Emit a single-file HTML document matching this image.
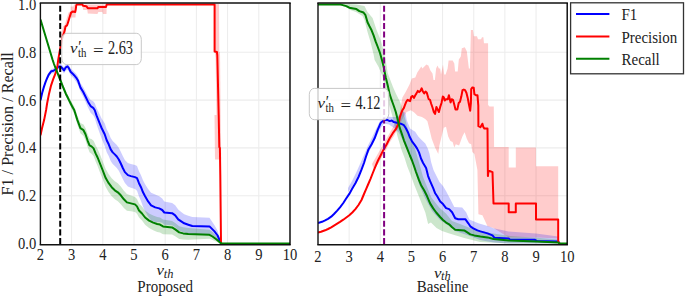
<!DOCTYPE html>
<html><head><meta charset="utf-8"><style>
html,body{margin:0;padding:0;background:#fff;overflow:hidden;}
svg{display:block;}
text{font-family:"Liberation Serif",serif;fill:#222;}
</style></head><body>
<svg width="685" height="297" viewBox="0 0 685 297">
<defs><clipPath id="cl"><rect x="40.4" y="3.0" width="249.6" height="241.8"/></clipPath><clipPath id="cr"><rect x="318.0" y="3.0" width="249.20000000000005" height="241.8"/></clipPath></defs>
<rect x="0" y="0" width="685" height="297" fill="#fff"/>
<line x1="71.60" y1="3.0" x2="71.60" y2="244.8" stroke="#ececec" stroke-width="1.0"/><line x1="102.80" y1="3.0" x2="102.80" y2="244.8" stroke="#ececec" stroke-width="1.0"/><line x1="134.00" y1="3.0" x2="134.00" y2="244.8" stroke="#ececec" stroke-width="1.0"/><line x1="165.20" y1="3.0" x2="165.20" y2="244.8" stroke="#ececec" stroke-width="1.0"/><line x1="196.40" y1="3.0" x2="196.40" y2="244.8" stroke="#ececec" stroke-width="1.0"/><line x1="227.60" y1="3.0" x2="227.60" y2="244.8" stroke="#ececec" stroke-width="1.0"/><line x1="258.80" y1="3.0" x2="258.80" y2="244.8" stroke="#ececec" stroke-width="1.0"/><line x1="40.4" y1="195.76" x2="290.0" y2="195.76" stroke="#ececec" stroke-width="1.2"/><line x1="40.4" y1="147.92" x2="290.0" y2="147.92" stroke="#ececec" stroke-width="1.2"/><line x1="40.4" y1="100.08" x2="290.0" y2="100.08" stroke="#ececec" stroke-width="1.2"/><line x1="40.4" y1="52.24" x2="290.0" y2="52.24" stroke="#ececec" stroke-width="1.2"/>
<line x1="349.15" y1="3.0" x2="349.15" y2="244.8" stroke="#ececec" stroke-width="1.0"/><line x1="380.30" y1="3.0" x2="380.30" y2="244.8" stroke="#ececec" stroke-width="1.0"/><line x1="411.45" y1="3.0" x2="411.45" y2="244.8" stroke="#ececec" stroke-width="1.0"/><line x1="442.60" y1="3.0" x2="442.60" y2="244.8" stroke="#ececec" stroke-width="1.0"/><line x1="473.75" y1="3.0" x2="473.75" y2="244.8" stroke="#ececec" stroke-width="1.0"/><line x1="504.90" y1="3.0" x2="504.90" y2="244.8" stroke="#ececec" stroke-width="1.0"/><line x1="536.05" y1="3.0" x2="536.05" y2="244.8" stroke="#ececec" stroke-width="1.0"/><line x1="318.0" y1="195.76" x2="567.2" y2="195.76" stroke="#ececec" stroke-width="1.2"/><line x1="318.0" y1="147.92" x2="567.2" y2="147.92" stroke="#ececec" stroke-width="1.2"/><line x1="318.0" y1="100.08" x2="567.2" y2="100.08" stroke="#ececec" stroke-width="1.2"/><line x1="318.0" y1="52.24" x2="567.2" y2="52.24" stroke="#ececec" stroke-width="1.2"/>
<g clip-path="url(#cl)">
<g opacity="0.2"><polygon points="40.5,98.9 42.2,91.2 43.9,85.1 45.6,80.0 47.3,75.7 48.9,72.2 50.0,70.8 51.3,68.9 53.5,68.4 55.3,67.0 57.0,65.6 58.8,63.7 60.5,63.6 62.3,65.3 64.0,67.5 65.8,64.3 67.5,63.3 68.9,65.0 70.6,68.4 72.4,70.0 74.1,71.7 76.3,74.1 78.1,76.8 80.5,83.3 83.1,87.1 85.6,91.7 88.1,96.3 90.6,100.0 93.2,101.2 94.8,103.3 96.5,107.8 98.2,111.3 99.9,114.8 101.6,118.4 104.7,123.3 106.7,129.2 108.7,133.1 110.7,138.1 112.7,141.0 114.8,142.9 116.8,144.9 118.8,147.8 120.8,151.7 122.8,156.1 124.9,160.1 127.9,163.1 130.9,164.1 135.0,165.1 137.0,166.1 139.0,171.2 141.0,175.2 143.0,180.3 145.1,184.3 148.1,189.1 151.1,192.8 155.2,194.4 159.2,196.2 162.2,198.4 164.3,201.4 172.1,202.9 175.2,205.3 178.2,209.6 181.2,211.9 184.2,214.2 188.3,215.7 192.3,217.0 209.5,217.7 211.5,220.7 214.5,225.2 217.6,230.8 220.2,239.4 221.0,242.7 221.0,244.1 220.2,243.1 217.6,239.2 214.5,236.7 211.5,235.2 209.5,234.2 192.3,234.7 188.3,233.6 184.2,232.5 181.2,231.4 178.2,230.3 175.2,227.2 172.1,225.2 164.3,224.7 162.2,222.8 159.2,222.1 155.2,222.3 151.1,220.4 148.1,216.4 145.1,211.3 143.0,206.7 141.0,201.0 139.0,196.4 137.0,190.7 135.0,189.1 130.9,187.7 127.9,186.4 124.9,183.1 122.8,179.1 120.8,174.7 118.8,170.8 116.8,167.9 114.8,165.9 112.7,164.0 110.7,161.1 108.7,156.1 106.7,152.2 104.7,146.1 101.6,138.6 99.9,133.8 98.2,128.9 96.5,124.0 94.8,118.2 93.2,115.3 90.6,112.8 88.1,107.8 85.6,102.0 83.1,96.6 80.5,92.1 78.1,85.1 76.3,81.9 74.1,79.1 72.4,77.1 70.6,75.3 68.9,71.6 67.5,69.7 65.8,70.4 64.0,73.4 62.3,71.1 60.5,69.2 58.8,69.1 57.0,70.8 55.3,72.0 53.5,73.2 51.3,73.5 50.0,75.2 48.9,76.4 47.3,79.7 45.6,83.8 43.9,88.7 42.2,94.4 40.5,101.9" fill="#0000ff" fill-opacity="1" stroke="none"/></g>
<g opacity="0.2"><polygon points="40.5,18.0 44.1,29.9 47.1,39.8 50.1,49.7 52.5,57.6 54.0,62.0 55.7,66.4 57.4,70.4 59.0,74.5 60.7,78.6 62.4,82.8 64.1,86.9 65.8,91.0 67.5,94.2 69.1,97.5 70.8,100.6 72.5,103.6 74.2,106.2 77.4,115.6 80.4,123.1 83.5,124.5 85.5,128.1 87.5,133.8 89.5,138.5 91.5,139.1 93.6,140.7 95.6,145.3 97.6,149.0 99.6,153.6 102.6,161.0 105.7,169.1 108.7,174.2 111.7,178.2 114.8,181.3 117.8,183.3 120.8,186.4 123.9,190.7 126.9,194.1 130.9,195.5 135.0,196.9 137.0,199.1 139.0,203.4 142.0,206.5 145.1,210.5 149.1,213.6 153.2,215.6 157.2,217.0 160.0,217.6 163.0,219.5 172.1,220.9 175.2,223.0 179.2,226.2 183.2,227.3 188.3,228.1 209.5,229.8 212.5,232.1 216.6,236.2 220.6,241.9 222.0,243.6 222.0,243.6 220.6,243.7 216.6,241.8 212.5,239.9 209.5,238.8 188.3,239.7 183.2,239.5 179.2,238.9 175.2,236.2 172.1,234.4 163.0,234.2 160.0,232.6 157.2,231.9 153.2,230.3 149.1,228.1 145.1,224.8 142.0,220.6 139.0,217.6 137.0,213.7 135.0,211.9 130.9,211.3 126.9,210.7 123.9,207.9 120.8,204.2 117.8,201.3 114.8,199.3 111.7,196.2 108.7,192.2 105.7,187.1 102.6,179.0 99.6,171.4 97.6,166.0 95.6,161.5 93.6,156.1 91.5,153.7 89.5,152.3 87.5,146.8 85.5,140.3 83.5,135.9 80.4,133.3 77.4,124.6 74.2,113.8 72.5,110.6 70.8,107.0 69.1,103.3 67.5,99.8 65.8,96.4 64.1,92.1 62.4,87.8 60.7,83.4 59.0,79.1 57.4,74.8 55.7,70.4 54.0,66.0 52.5,61.4 50.1,53.3 47.1,43.2 44.1,33.1 40.5,21.0" fill="#008000" fill-opacity="1" stroke="none"/></g>
<g opacity="0.2"><polygon points="59.7,38.3 61.8,32.2 62.4,29.5 63.1,26.3 64.6,25.3 65.6,22.2 67.1,17.2 68.6,12.6 70.1,11.6 72.7,12.1 73.2,9.6 73.7,5.6 74.2,4.4 77.2,4.4 76.7,5.6 76.2,9.6 75.7,12.1 73.1,11.6 71.6,12.6 70.1,17.2 68.6,22.2 67.6,25.3 66.1,26.3 65.4,29.5 64.8,32.2 62.7,38.3" fill="#ff0000" fill-opacity="1" stroke="none"/><polygon points="70.6,6.5 76.2,6.5 75.5,17.5 70.6,17.5" fill="#ff0000" fill-opacity="1" stroke="none"/><polygon points="82.2,4.4 83.2,10.1 87.3,10.1 87.8,13.6 97.4,14.1 98.4,12.1 102.4,12.1 103.0,14.1 106.5,14.1 106.7,4.4" fill="#ff0000" fill-opacity="1" stroke="none"/><polygon points="214.6,4.0 219.0,4.0 219.3,58.0 216.0,58.0 214.6,52.0" fill="#ff0000" fill-opacity="1" stroke="none"/><polygon points="215.5,52.0 220.0,52.0 220.6,115.0 216.5,115.0" fill="#ff0000" fill-opacity="1" stroke="none"/><polygon points="214.5,115.0 220.6,115.0 221.2,159.4 215.0,159.4" fill="#ff0000" fill-opacity="1" stroke="none"/></g>
<polyline points="40.5,100.4 42.2,92.8 43.9,86.9 45.6,81.9 47.3,77.7 48.9,74.3 50.0,73.0 51.3,71.2 53.5,70.8 55.3,69.5 57.0,68.2 58.8,66.4 60.5,66.4 62.3,68.2 64.0,70.4 65.8,67.3 67.5,66.4 68.9,68.2 70.6,71.7 72.4,73.4 74.1,75.2 76.3,77.8 78.1,80.8 80.5,87.6 83.1,91.8 85.6,96.8 88.1,101.9 90.6,106.1 93.2,107.8 94.8,110.3 96.5,115.4 98.2,119.6 99.9,123.8 101.6,128.0 104.7,134.2 106.7,140.3 108.7,144.3 110.7,149.4 112.7,152.4 114.8,154.4 116.8,156.5 118.8,159.5 120.8,163.5 122.8,168.0 124.9,172.1 127.9,175.1 130.9,176.1 135.0,177.1 137.0,178.1 139.0,183.2 141.0,187.2 143.0,192.3 145.1,196.3 148.1,201.4 151.1,205.4 155.2,207.4 159.2,208.4 162.2,210.0 164.3,212.5 172.1,213.2 175.2,215.3 178.2,219.3 181.2,221.3 184.2,223.3 188.3,224.7 192.3,226.0 209.5,226.4 211.5,228.4 214.5,231.4 217.6,235.5 220.2,241.5 221.0,243.5" fill="none" stroke="#0000ff" stroke-width="2.0" stroke-linejoin="round" />
<polyline points="40.5,135.3 42.0,128.2 44.1,120.1 46.1,110.0 47.1,103.5 49.1,93.4 51.1,85.3 53.2,79.2 55.2,74.2 56.5,70.1 57.4,65.9 58.2,60.0 60.2,48.4 62.2,38.3 64.3,32.2 64.9,29.5 65.6,26.3 67.1,25.3 68.1,22.2 69.6,17.2 71.1,12.6 72.6,11.6 75.2,12.1 75.7,9.6 76.2,5.6 76.7,4.4 82.2,4.4 83.2,5.8 86.3,6.2 87.8,8.2 97.4,8.3 98.4,6.9 106.0,6.9 106.7,4.4 214.6,4.4 214.6,51.5 216.9,52.0 217.3,55.0 218.7,115.0 219.3,147.0 219.9,148.0 220.3,175.0 221.0,243.0 221.5,243.6" fill="none" stroke="#ff0000" stroke-width="2.0" stroke-linejoin="round" />
<polyline points="40.5,19.5 44.1,31.5 47.1,41.5 50.1,51.5 52.5,59.5 54.0,64.0 55.7,68.4 57.4,72.6 59.0,76.8 60.7,81.0 62.4,85.3 64.1,89.5 65.8,93.7 67.5,97.0 69.1,100.4 70.8,103.8 72.5,107.1 74.2,110.0 77.4,120.1 80.4,128.2 83.5,130.2 85.5,134.2 87.5,140.3 89.5,145.4 91.5,146.4 93.6,148.4 95.6,153.4 97.6,157.5 99.6,162.5 102.6,170.0 105.7,178.1 108.7,183.2 111.7,187.2 114.8,190.3 117.8,192.3 120.8,195.3 123.9,199.3 126.9,202.4 130.9,203.4 135.0,204.4 137.0,206.4 139.0,210.5 142.0,213.5 145.1,217.5 149.1,220.6 153.2,222.6 157.2,224.0 160.0,224.6 163.0,226.4 172.1,227.4 175.2,229.4 179.2,232.4 183.2,233.4 188.3,234.0 209.5,234.8 212.5,236.5 216.6,239.5 220.6,243.0 222.0,243.6 290.0,243.6" fill="none" stroke="#008000" stroke-width="2.0" stroke-linejoin="round" />
</g>
<line x1="60.2" y1="5.7" x2="60.2" y2="244.8" stroke="#000" stroke-width="2" stroke-dasharray="6.1,2.5"/>
<g clip-path="url(#cr)">
<g opacity="0.2"><polygon points="372.0,164.0 376.0,157.0 380.0,150.0 384.0,143.0 388.0,136.0 392.0,129.0 396.0,121.0 399.5,114.0 402.4,97.4 405.9,91.5 409.5,84.4 411.8,78.5 415.3,77.6 417.3,72.6 419.3,69.5 421.3,66.5 422.4,68.5 424.4,66.5 426.4,64.5 428.4,65.5 430.4,70.6 432.5,73.6 433.5,80.0 434.9,80.0 436.1,68.5 437.5,65.5 438.9,68.5 440.2,68.5 441.0,74.6 442.2,68.5 443.0,64.5 444.2,74.6 445.6,74.6 447.6,68.5 448.6,60.4 452.7,60.4 454.3,63.5 455.1,71.6 457.7,71.6 458.8,59.4 460.8,56.4 461.8,48.3 464.8,47.3 466.8,51.3 468.9,68.5 469.9,68.5 470.9,30.1 472.9,30.1 473.9,36.2 477.0,36.2 478.0,39.2 481.0,39.2 482.0,37.2 483.4,37.2 484.0,43.3 488.1,43.3 488.1,105.0 489.5,106.5 493.8,106.5 494.1,147.0 508.7,147.0 508.7,167.6 515.8,167.6 515.8,147.4 536.0,147.4 536.0,166.2 558.2,166.2 558.2,238.4 537.0,237.4 508.7,237.4 493.5,228.0 487.5,226.3 482.4,215.2 478.4,214.2 477.4,170.0 475.5,160.0 474.4,154.1 472.3,151.9 471.2,144.3 469.0,143.2 466.8,138.8 464.6,132.2 462.4,136.6 459.1,145.4 455.8,144.3 454.3,147.6 452.6,142.1 450.4,141.0 448.2,136.6 446.0,126.7 443.8,127.8 441.6,136.6 439.4,145.4 438.3,154.1 435.0,147.6 431.7,138.8 429.6,130.0 427.4,121.3 425.2,119.1 421.9,116.9 417.5,115.8 414.2,112.5 410.9,110.3 406.6,112.0 403.5,117.0 400.0,124.0 397.0,130.0 394.0,136.0 390.0,142.0 386.0,150.0 382.0,157.0 378.0,164.0 374.0,170.0" fill="#ff0000" fill-opacity="1" stroke="none"/></g>
<g opacity="0.2"><polygon points="348.0,188.0 352.0,181.0 356.0,173.0 360.0,164.0 364.0,155.0 368.0,145.5 372.0,137.5 376.0,129.0 379.0,123.0 382.0,118.0 386.0,116.5 392.0,117.0 398.0,117.0 401.0,113.0 403.6,111.5 405.5,113.0 406.7,120.0 410.1,128.4 415.2,131.8 418.5,136.8 421.9,140.2 425.3,143.6 427.8,148.6 429.5,153.7 431.1,162.1 433.5,170.0 436.5,176.0 439.5,182.0 443.0,186.0 446.0,191.0 450.2,199.0 454.3,207.0 462.2,207.4 466.3,212.5 469.3,219.5 478.4,223.3 488.5,226.3 493.5,228.3 508.7,231.4 536.0,233.5 558.2,236.5 560.0,243.6 558.0,243.6 536.0,243.6 508.7,243.5 494.0,242.5 488.0,241.5 480.0,240.0 470.0,236.0 464.0,234.0 455.0,231.0 452.1,228.0 446.0,224.0 440.0,220.0 432.0,211.0 425.0,198.0 419.0,184.0 414.2,168.0 410.6,158.0 407.1,150.0 403.6,142.1 398.9,132.7 394.1,128.0 389.0,124.5 384.0,123.5 380.0,129.0 376.0,137.5 372.0,146.0 368.0,154.0 364.0,163.0 360.0,172.0 356.0,180.0 352.0,187.0 348.0,192.0" fill="#0000ff" fill-opacity="1" stroke="none"/></g>
<g opacity="0.2"><polygon points="340.0,3.5 356.4,4.5 364.5,6.0 367.5,12.0 372.6,18.0 376.6,30.0 380.6,40.0 383.7,50.5 385.7,60.0 387.7,73.0 390.7,81.0 393.0,87.0 396.2,94.2 400.2,102.3 403.5,112.0 405.5,120.0 407.5,128.0 410.6,138.0 415.4,150.0 418.9,162.0 423.1,177.1 431.2,197.3 439.2,207.4 446.0,213.5 452.0,221.0 460.0,224.0 470.0,228.0 490.0,233.0 510.0,236.0 540.0,238.0 558.0,239.5 560.0,243.6 540.0,243.6 510.0,243.6 480.0,242.0 464.2,238.0 449.4,233.5 442.0,231.0 436.5,228.0 430.9,222.5 428.1,224.0 425.4,212.8 421.7,203.5 418.0,194.3 414.3,185.0 411.0,176.0 407.1,166.0 404.7,158.3 401.2,148.9 397.7,137.1 394.1,122.9 391.8,114.0 388.7,103.5 385.7,91.0 382.7,77.0 378.6,67.0 374.6,60.0 373.6,54.5 370.5,42.0 367.5,32.0 364.5,20.0 362.5,16.0 356.0,12.0 350.3,10.0 346.0,7.0 340.0,5.5" fill="#008000" fill-opacity="1" stroke="none"/></g>
<polyline points="318.0,223.0 322.0,221.8 325.1,220.3 328.0,218.8 331.2,216.7 334.0,214.0 337.2,210.6 340.0,207.3 343.3,203.0 346.0,198.8 349.3,193.9 352.0,189.0 355.4,183.3 358.5,177.0 361.5,169.7 364.0,163.0 366.0,156.5 368.5,149.4 371.6,144.3 374.6,138.3 377.6,130.2 380.6,123.1 383.7,120.1 386.7,119.7 389.7,121.1 391.8,120.5 393.8,122.1 395.8,122.5 397.8,123.1 400.8,123.7 403.9,125.2 405.9,128.2 407.9,132.2 409.9,137.3 412.0,141.3 415.0,145.4 417.0,148.4 419.0,152.4 421.0,158.5 423.1,163.0 426.1,168.0 428.1,176.1 430.1,181.2 433.2,188.2 435.2,193.3 437.2,196.3 440.2,201.5 443.0,204.1 446.1,208.1 449.1,209.1 452.1,212.2 455.2,218.2 458.2,219.2 465.3,219.2 468.3,223.3 470.3,226.3 473.3,228.3 477.4,230.4 480.4,231.4 487.5,233.4 492.5,235.4 494.5,237.8 508.7,238.4 509.7,239.4 535.0,239.8 537.0,241.1 558.2,241.5 559.2,243.3 560.0,243.6" fill="none" stroke="#0000ff" stroke-width="2.0" stroke-linejoin="round" />
<polyline points="318.0,232.6 321.0,231.8 325.1,230.3 328.0,229.0 331.2,227.3 334.0,225.6 337.2,223.6 340.0,221.9 343.3,219.7 346.3,217.5 349.3,215.2 352.3,212.5 355.4,209.1 358.5,205.0 361.5,200.0 364.0,194.0 366.0,189.4 368.3,184.0 370.5,178.8 373.0,172.5 376.0,165.2 378.0,160.5 380.6,155.5 383.7,149.4 386.7,144.3 389.7,138.3 392.8,133.2 395.8,129.2 398.8,123.1 399.9,117.1 401.2,113.2 402.5,110.0 403.8,108.1 405.0,104.9 406.3,101.7 407.6,99.8 408.9,100.5 410.1,101.1 411.4,96.6 412.7,96.0 414.0,97.9 415.3,95.3 416.5,93.4 417.8,90.9 419.1,92.1 420.4,90.9 421.7,88.3 422.9,91.5 424.2,93.4 425.5,91.5 426.8,92.8 428.1,97.3 428.7,99.2 430.0,99.8 431.2,103.7 432.5,107.5 433.8,112.0 435.1,113.9 436.4,106.9 437.6,109.4 438.9,112.0 440.2,106.9 441.5,103.0 442.8,96.6 443.8,97.3 444.7,100.5 445.9,99.2 447.8,99.2 448.9,95.3 449.8,99.2 450.6,102.4 451.7,99.2 453.0,99.8 454.2,104.3 455.5,109.4 457.4,109.4 458.7,103.0 460.0,101.7 461.3,96.6 462.5,90.2 463.8,89.6 465.1,90.2 466.4,92.8 467.7,97.9 468.9,104.3 470.2,110.7 470.9,103.0 471.2,89.0 472.4,87.4 473.7,87.7 474.4,94.1 476.0,95.3 477.5,95.3 478.3,105.6 478.4,126.2 480.4,127.2 482.4,123.7 483.4,127.2 484.4,128.6 487.5,128.6 487.9,176.1 488.5,171.0 489.5,171.0 492.5,172.1 493.5,203.5 508.7,203.5 508.7,212.2 515.8,212.2 515.8,203.5 536.0,203.5 536.0,219.6 558.2,219.6 558.2,241.5 559.2,243.3 560.0,243.6" fill="none" stroke="#ff0000" stroke-width="2.0" stroke-linejoin="round" />
<polyline points="317.0,4.4 340.2,4.4 346.3,6.1 349.3,7.7 353.4,8.5 356.4,9.1 359.4,11.1 363.5,12.5 365.5,15.2 367.5,22.2 369.5,26.3 371.6,30.3 373.6,35.4 375.6,41.4 377.6,46.5 380.0,53.0 381.7,59.0 383.7,67.1 385.7,77.2 387.7,85.3 389.7,94.4 391.8,100.5 393.8,106.0 395.8,112.0 397.8,120.0 399.8,128.2 401.9,134.2 403.9,140.3 405.9,145.4 407.9,150.4 409.9,155.5 412.0,160.5 414.0,166.0 416.0,172.0 419.0,180.2 421.1,185.2 424.1,190.3 427.1,196.3 430.1,203.4 433.2,208.4 436.2,212.5 440.1,217.0 443.0,220.0 446.1,222.6 449.1,224.3 452.1,227.3 455.2,229.7 464.2,230.4 467.3,232.4 470.3,234.4 474.3,235.4 480.4,236.4 487.5,237.4 493.5,239.0 508.7,240.5 537.0,241.5 558.2,242.5 559.5,243.6 567.2,243.6" fill="none" stroke="#008000" stroke-width="2.0" stroke-linejoin="round" />
</g>
<line x1="384.1" y1="5.7" x2="384.1" y2="244.8" stroke="#800080" stroke-width="2" stroke-dasharray="6.1,2.5"/>
<line x1="39.699999999999996" y1="3.0" x2="290.7" y2="3.0" stroke="#111" stroke-width="1.6"/>
<line x1="39.699999999999996" y1="244.8" x2="290.7" y2="244.8" stroke="#111" stroke-width="1.6"/>
<line x1="40.4" y1="3.0" x2="40.4" y2="244.8" stroke="#111" stroke-width="1.4"/>
<line x1="290.0" y1="3.0" x2="290.0" y2="244.8" stroke="#000" stroke-width="1.4"/>
<line x1="317.3" y1="3.0" x2="567.9000000000001" y2="3.0" stroke="#111" stroke-width="1.6"/>
<line x1="317.3" y1="244.8" x2="567.9000000000001" y2="244.8" stroke="#111" stroke-width="1.6"/>
<line x1="318.0" y1="3.0" x2="318.0" y2="244.8" stroke="#111" stroke-width="1.4"/>
<line x1="567.2" y1="3.0" x2="567.2" y2="244.8" stroke="#000" stroke-width="1.4"/>
<text transform="translate(40.40,260.10) scale(0.97,1.12)" font-size="15" text-anchor="middle" >2</text>
<text transform="translate(71.60,260.10) scale(0.97,1.12)" font-size="15" text-anchor="middle" >3</text>
<text transform="translate(102.80,260.10) scale(0.97,1.12)" font-size="15" text-anchor="middle" >4</text>
<text transform="translate(134.00,260.10) scale(0.97,1.12)" font-size="15" text-anchor="middle" >5</text>
<text transform="translate(165.20,260.10) scale(0.97,1.12)" font-size="15" text-anchor="middle" >6</text>
<text transform="translate(196.40,260.10) scale(0.97,1.12)" font-size="15" text-anchor="middle" >7</text>
<text transform="translate(227.60,260.10) scale(0.97,1.12)" font-size="15" text-anchor="middle" >8</text>
<text transform="translate(258.80,260.10) scale(0.97,1.12)" font-size="15" text-anchor="middle" >9</text>
<text transform="translate(290.00,260.10) scale(0.97,1.12)" font-size="15" text-anchor="middle" >10</text>
<text transform="translate(318.00,262.00) scale(0.97,1.12)" font-size="15" text-anchor="middle" >2</text>
<text transform="translate(349.15,262.00) scale(0.97,1.12)" font-size="15" text-anchor="middle" >3</text>
<text transform="translate(380.30,262.00) scale(0.97,1.12)" font-size="15" text-anchor="middle" >4</text>
<text transform="translate(411.45,262.00) scale(0.97,1.12)" font-size="15" text-anchor="middle" >5</text>
<text transform="translate(442.60,262.00) scale(0.97,1.12)" font-size="15" text-anchor="middle" >6</text>
<text transform="translate(473.75,262.00) scale(0.97,1.12)" font-size="15" text-anchor="middle" >7</text>
<text transform="translate(504.90,262.00) scale(0.97,1.12)" font-size="15" text-anchor="middle" >8</text>
<text transform="translate(536.05,262.00) scale(0.97,1.12)" font-size="15" text-anchor="middle" >9</text>
<text transform="translate(567.20,262.00) scale(0.97,1.12)" font-size="15" text-anchor="middle" >10</text>
<text transform="translate(36.20,249.10) scale(0.97,1.12)" font-size="15" text-anchor="end" >0.0</text>
<text transform="translate(36.20,201.26) scale(0.97,1.12)" font-size="15" text-anchor="end" >0.2</text>
<text transform="translate(36.20,153.42) scale(0.97,1.12)" font-size="15" text-anchor="end" >0.4</text>
<text transform="translate(36.20,105.58) scale(0.97,1.12)" font-size="15" text-anchor="end" >0.6</text>
<text transform="translate(36.20,57.74) scale(0.97,1.12)" font-size="15" text-anchor="end" >0.8</text>
<text transform="translate(36.20,9.70) scale(0.97,1.12)" font-size="15" text-anchor="end" >1.0</text>
<text transform="translate(13.0,123.8) rotate(-90) scale(1.12,1.17)" font-size="14.4" text-anchor="middle">F1 / Precision / Recall</text>
<text transform="translate(156.60,275.20) scale(1.2,1.05)" font-size="14" text-anchor="start" font-style="italic" >v</text>
<text transform="translate(163.70,277.80) scale(1.08,1.1)" font-size="11.5" text-anchor="start" font-style="italic" >th</text>
<text transform="translate(165.20,292.40) scale(1.0,1.07)" font-size="15" text-anchor="middle" >Proposed</text>
<text transform="translate(434.00,277.60) scale(1.2,1.05)" font-size="14" text-anchor="start" font-style="italic" >v</text>
<text transform="translate(441.10,280.20) scale(1.08,1.1)" font-size="11.5" text-anchor="start" font-style="italic" >th</text>
<text transform="translate(442.60,292.40) scale(1.0,1.07)" font-size="15" text-anchor="middle" >Baseline</text>
<rect x="61.8" y="33.3" width="79.5" height="31.3" rx="5" ry="6" fill="#fff" fill-opacity="0.8" stroke="#c8c8c8" stroke-width="1"/><text transform="translate(70.00,52.70) scale(1.2,1.1)" font-size="14" text-anchor="start" font-style="italic" >v</text><text transform="translate(78.20,51.50) scale(1.0,1.1)" font-size="15" text-anchor="start" >′</text><text transform="translate(78.10,56.80) scale(1.0,1.1)" font-size="10.8" text-anchor="start" >th</text><text transform="translate(92.90,55.60) scale(1.25,1.1)" font-size="15" text-anchor="start" >=</text><text transform="translate(107.90,53.50) scale(0.91,1.2)" font-size="15.8" text-anchor="start" >2.63</text>
<rect x="309.3" y="88.4" width="79.5" height="31.3" rx="5" ry="6" fill="#fff" fill-opacity="0.8" stroke="#c8c8c8" stroke-width="1"/><text transform="translate(317.50,107.80) scale(1.2,1.1)" font-size="14" text-anchor="start" font-style="italic" >v</text><text transform="translate(325.70,106.60) scale(1.0,1.1)" font-size="15" text-anchor="start" >′</text><text transform="translate(325.60,111.90) scale(1.0,1.1)" font-size="10.8" text-anchor="start" >th</text><text transform="translate(340.40,110.70) scale(1.25,1.1)" font-size="15" text-anchor="start" >=</text><text transform="translate(355.40,108.60) scale(0.91,1.2)" font-size="15.8" text-anchor="start" >4.12</text>
<rect x="570.6" y="2.8" width="112.9" height="71.0" fill="#fff" stroke="#333" stroke-width="1.3"/>
<line x1="576" y1="14.0" x2="609.4" y2="14.0" stroke="#0000ff" stroke-width="2"/>
<text transform="translate(621.50,20.40) scale(1.0,1.07)" font-size="15" text-anchor="start" >F1</text>
<line x1="576" y1="36.4" x2="609.4" y2="36.4" stroke="#ff0000" stroke-width="2"/>
<text transform="translate(621.50,42.80) scale(1.0,1.07)" font-size="15" text-anchor="start" >Precision</text>
<line x1="576" y1="58.8" x2="609.4" y2="58.8" stroke="#008000" stroke-width="2"/>
<text transform="translate(621.50,65.20) scale(1.0,1.07)" font-size="15" text-anchor="start" >Recall</text>
</svg>
</body></html>
